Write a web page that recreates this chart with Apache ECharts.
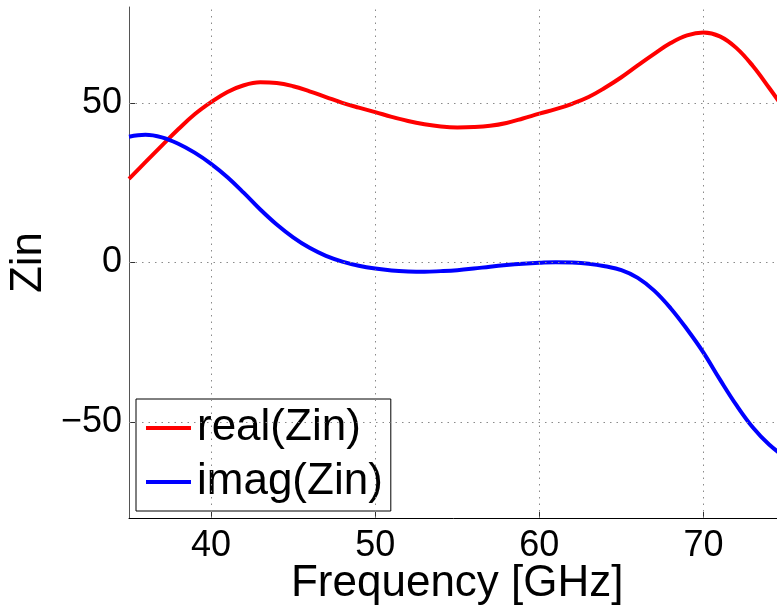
<!DOCTYPE html>
<html>
<head>
<meta charset="utf-8">
<title>Zin vs Frequency</title>
<script src="https://cdn.jsdelivr.net/npm/echarts@6/dist/echarts.min.js"></script>
<style>
  html, body { margin: 0; padding: 0; background: #fff; }
  #chart { width: 777px; height: 608px; }
</style>
</head>
<body>
<div id="chart"></div>
<script>
// Frequency samples in GHz
const freq = [35, 36, 37, 38, 39, 40, 41, 42, 43, 44, 45, 46, 47, 48, 49, 50,
  51, 52, 53, 54, 55, 56, 57, 58, 59, 60, 61, 62, 63, 64, 65, 66, 67, 68, 69, 70,
  71, 72, 73, 74, 75];

// Real part of the input impedance
const realZin = [26.2, 31.4, 36.6, 41.7, 46.4, 50.2, 53.4, 55.5, 56.4, 56.2,
  55.2, 53.6, 51.8, 50.0, 48.5, 47.1, 45.6, 44.3, 43.3, 42.6, 42.3, 42.4, 42.8,
  43.7, 45.1, 46.6, 48.0, 49.7, 51.8, 54.7, 58.0, 61.7, 65.3, 68.7, 71.1, 72.0,
  70.8, 67.2, 61.6, 54.7, 47.5];

// Imaginary part of the input impedance
const imagZin = [39.4, 40.0, 39.2, 37.2, 34.4, 30.9, 26.7, 21.8, 16.6, 11.9,
  7.9, 4.6, 2.1, 0.3, -1.0, -1.9, -2.5, -2.8, -2.9, -2.7, -2.4, -1.9, -1.3,
  -0.8, -0.4, -0.1, 0.1, 0.0, -0.4, -1.2, -2.4, -4.8, -8.8, -14.3, -20.9, -28.2,
  -36.6, -44.6, -51.6, -57.0, -61.0];

const xTicks = [40, 50, 60, 70];
const yTicks = [-50, 0, 50];
const seriesNames = ['real(Zin)', 'imag(Zin)'];

const FONT = '"Liberation Sans", Arial, Helvetica, sans-serif';
const pairs = (ys) => freq.map((f, i) => [f, ys[i]]);

const gridLine = { type: [1.5, 5], color: '#8a8a8a', width: 1 };

const chart = echarts.init(document.getElementById('chart'), null, { renderer: 'canvas' });
chart.setOption({
  animation: false,
  backgroundColor: '#fff',
  textStyle: { fontFamily: FONT },
  grid: { left: 129, right: -8.5, top: 7, bottom: 90, containLabel: false, outerBoundsMode: 'none' },
  legend: {
    data: seriesNames,
    orient: 'vertical',
    left: 136,
    top: 399,
    padding: [7, 8, 7, 10],
    itemGap: 10,
    itemWidth: 45,
    itemHeight: 4,
    icon: 'rect',
    backgroundColor: '#fff',
    borderColor: '#000',
    borderWidth: 1,
    borderRadius: 0,
    textStyle: { fontFamily: FONT, fontSize: 44, color: '#000', padding: [0, 0, 0, 1] }
  },
  xAxis: {
    type: 'value',
    min: 35,
    max: 75,
    name: 'Frequency [GHz]',
    nameLocation: 'middle',
    nameGap: 44,
    nameMoveOverlap: false,
    nameTextStyle: { fontFamily: FONT, fontSize: 44, color: '#000' },
    axisLine: { show: true, onZero: false, lineStyle: { color: '#000', width: 1 } },
    axisTick: { show: true, inside: true, length: 6, customValues: xTicks, lineStyle: { color: '#333' } },
    axisLabel: { fontFamily: FONT, fontSize: 36, color: '#000', margin: 10, customValues: xTicks },
    splitLine: { show: false }
  },
  yAxis: {
    type: 'value',
    min: -80,
    max: 80,
    name: 'Zin',
    nameLocation: 'middle',
    nameGap: 78,
    nameMoveOverlap: false,
    nameRotate: 90,
    nameTextStyle: { fontFamily: FONT, fontSize: 44, color: '#000' },
    axisLine: { show: true, onZero: false, lineStyle: { color: '#555', width: 1 } },
    axisTick: { show: true, inside: true, length: 6, customValues: yTicks, lineStyle: { color: '#333' } },
    axisLabel: {
      fontFamily: FONT, fontSize: 36, color: '#000', margin: 7, customValues: yTicks,
      formatter: (v) => String(v).replace('-', '\u2212')
    },
    splitLine: { show: false }
  },
  series: [
    {
      // dotted grid at the labelled ticks
      name: 'grid',
      type: 'line',
      data: [],
      silent: true,
      z: 1,
      markLine: {
        silent: true,
        symbol: 'none',
        animation: false,
        label: { show: false },
        lineStyle: gridLine,
        emphasis: { disabled: true },
        data: xTicks.map(v => ({ xAxis: v })).concat(yTicks.map(v => ({ yAxis: v })))
      }
    },
    {
      name: seriesNames[0],
      type: 'line',
      data: pairs(realZin),
      smooth: 0.4,
      showSymbol: false,
      z: 3,
      color: '#ff0000',
      lineStyle: { color: '#ff0000', width: 4 }
    },
    {
      name: seriesNames[1],
      type: 'line',
      data: pairs(imagZin),
      smooth: 0.4,
      showSymbol: false,
      z: 3,
      color: '#0000ff',
      lineStyle: { color: '#0000ff', width: 4 }
    }
  ]
});
</script>
</body>
</html>
